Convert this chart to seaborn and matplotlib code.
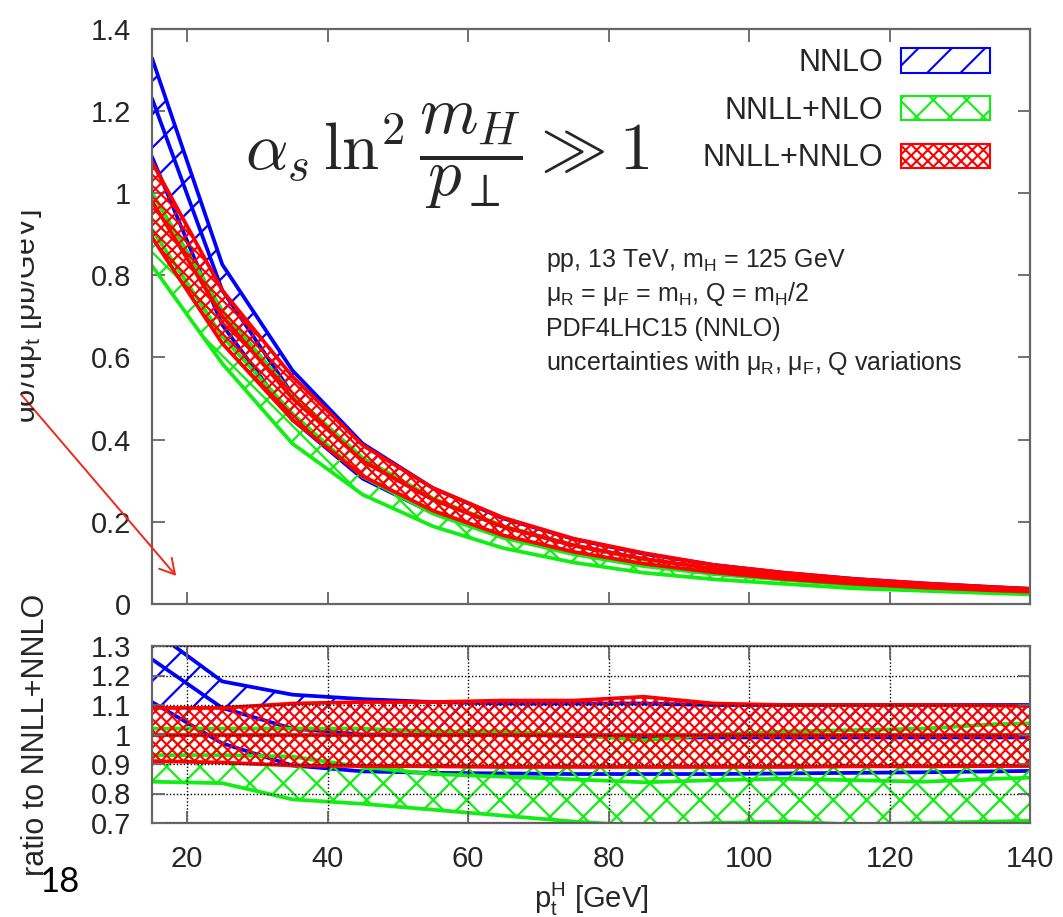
import numpy as np
import pandas as pd
import matplotlib
matplotlib.use("Agg")
import matplotlib.pyplot as plt
import seaborn as sns
from matplotlib.patches import Patch, FancyArrowPatch
from matplotlib.transforms import Bbox, TransformedBbox

# ---------------- data ----------------
pt = [15, 25, 35, 45, 55, 65, 75, 85, 95, 105, 115, 125, 135, 145]

# top panel: d sigma / d pt [pb/GeV]
nnlo_hi  = [1.328, 0.826, 0.568, 0.390, 0.282, 0.208, 0.158, 0.122, 0.095, 0.076, 0.061, 0.050, 0.041, 0.033]
nnlo_mid = [1.230, 0.763, 0.510, 0.348, 0.254, 0.188, 0.142, 0.109, 0.085, 0.068, 0.054, 0.045, 0.037, 0.030]
nnlo_lo  = [1.088, 0.679, 0.448, 0.305, 0.221, 0.163, 0.124, 0.095, 0.074, 0.060, 0.048, 0.039, 0.032, 0.026]

nllnlo_hi  = [1.000, 0.714, 0.510, 0.355, 0.257, 0.190, 0.143, 0.108, 0.086, 0.070, 0.056, 0.046, 0.038, 0.031]
nllnlo_mid = [0.911, 0.651, 0.463, 0.310, 0.220, 0.161, 0.121, 0.092, 0.073, 0.059, 0.046, 0.038, 0.031, 0.026]
nllnlo_lo  = [0.823, 0.585, 0.390, 0.266, 0.189, 0.136, 0.101, 0.076, 0.060, 0.049, 0.038, 0.032, 0.026, 0.021]

nllnnlo_hi  = [1.075, 0.763, 0.553, 0.386, 0.282, 0.210, 0.159, 0.124, 0.095, 0.076, 0.061, 0.050, 0.041, 0.033]
nllnnlo_mid = [0.980, 0.700, 0.500, 0.348, 0.254, 0.188, 0.143, 0.110, 0.086, 0.069, 0.055, 0.045, 0.037, 0.030]
nllnnlo_lo  = [0.892, 0.634, 0.448, 0.311, 0.227, 0.167, 0.127, 0.098, 0.077, 0.061, 0.049, 0.040, 0.033, 0.027]

# bottom panel: ratio to NNLL+NNLO
r_nnlo_hi  = [1.355, 1.18, 1.135, 1.12, 1.11, 1.105, 1.105, 1.105, 1.10, 1.10, 1.10, 1.10, 1.10, 1.10]
r_nnlo_mid = [1.255, 1.09, 1.02, 1.0, 1.0, 1.0, 0.995, 0.99, 0.99, 0.99, 0.99, 0.99, 0.99, 0.99]
r_nnlo_lo  = [1.11, 0.97, 0.895, 0.875, 0.87, 0.868, 0.866, 0.866, 0.866, 0.868, 0.87, 0.872, 0.875, 0.878]

r_nllnlo_hi  = [1.02, 1.02, 1.02, 1.02, 1.01, 1.01, 1.0, 0.98, 1.0, 1.01, 1.015, 1.02, 1.035, 1.04]
r_nllnlo_mid = [0.93, 0.93, 0.925, 0.89, 0.866, 0.857, 0.848, 0.838, 0.845, 0.85, 0.845, 0.84, 0.85, 0.857]
r_nllnlo_lo  = [0.84, 0.835, 0.78, 0.765, 0.745, 0.725, 0.705, 0.69, 0.70, 0.705, 0.695, 0.70, 0.705, 0.71]

r_nllnnlo_hi  = [1.09, 1.09, 1.105, 1.11, 1.11, 1.115, 1.115, 1.128, 1.105, 1.10, 1.10, 1.10, 1.098, 1.095]
r_nllnnlo_mid = [1.0, 1.0, 1.0, 1.0, 1.0, 1.0, 1.0, 1.0, 1.0, 1.0, 1.0, 1.0, 1.0, 1.0]
r_nllnnlo_lo  = [0.91, 0.905, 0.895, 0.893, 0.892, 0.89, 0.89, 0.89, 0.89, 0.89, 0.892, 0.892, 0.893, 0.893]

labels = ["NNLO", "NNLL+NLO", "NNLL+NNLO"]
colors = ["#0000ff", "#11ee11", "#ff0000"]
hatches = ["/", "x", "xxx"]
hatch_lw = [1.6, 1.6, 1.5]

top_yticks = [0, 0.2, 0.4, 0.6, 0.8, 1.0, 1.2, 1.4]
top_yticklabels = ["0", "0.2", "0.4", "0.6", "0.8", "1", "1.2", "1.4"]
bot_yticks = [0.7, 0.8, 0.9, 1.0, 1.1, 1.2, 1.3]
bot_yticklabels = ["0.7", "0.8", "0.9", "1", "1.1", "1.2", "1.3"]
xticks = [20, 40, 60, 80, 100, 120, 140]

# ---------------- style ----------------
sns.set_style("ticks")
plt.rcParams["font.family"] = ["Liberation Sans", "DejaVu Sans"]
plt.rcParams["hatch.linewidth"] = 1.5

W, H = 1063, 917
fig = plt.figure(figsize=(W / 100, H / 100), dpi=100)
fig.patch.set_facecolor("white")

L, R = 152, 1030
ax1 = fig.add_axes([L / W, 1 - 604 / H, (R - L) / W, (604 - 28.5) / H])
ax2 = fig.add_axes([L / W, 1 - 823 / H, (R - L) / W, (823 - 646) / H])

n = len(pt)


def set_hlw(artist, hlw):
    if hasattr(artist, "set_hatch_linewidth"):
        artist.set_hatch_linewidth(hlw)


def draw_band(ax, lo, mid, hi, color, hatch, hlw, z):
    with plt.rc_context({"hatch.linewidth": hlw}):
        coll = ax.fill_between(pt, lo, hi, facecolor="none", edgecolor=color,
                               hatch=hatch, linewidth=0, zorder=z)
    set_hlw(coll, hlw)
    df = pd.DataFrame({
        "pt": pt * 3,
        "val": list(lo) + list(mid) + list(hi),
        "edge": ["lo"] * n + ["mid"] * n + ["hi"] * n,
    })
    sns.lineplot(data=df, x="pt", y="val", hue="edge", palette=[color] * 3,
                 lw=2.7, legend=False, ax=ax, zorder=z + 0.05)


top_sets = [(nnlo_lo, nnlo_mid, nnlo_hi),
            (nllnlo_lo, nllnlo_mid, nllnlo_hi),
            (nllnnlo_lo, nllnnlo_mid, nllnnlo_hi)]
bot_sets = [(r_nnlo_lo, r_nnlo_mid, r_nnlo_hi),
            (r_nllnlo_lo, r_nllnlo_mid, r_nllnlo_hi),
            (r_nllnnlo_lo, r_nllnnlo_mid, r_nllnnlo_hi)]

for i in range(3):
    draw_band(ax1, *top_sets[i], colors[i], hatches[i], hatch_lw[i], 1 + 0.1 * i)
    draw_band(ax2, *bot_sets[i], colors[i], hatches[i], hatch_lw[i], 1 + 0.1 * i)

spine_col = "#666666"
for ax in (ax1, ax2):
    ax.set_xlim(15, 140)
    ax.set_xlabel("")
    ax.set_ylabel("")
    ax.set_xticks(xticks)
    for s in ax.spines.values():
        s.set_visible(True)
        s.set_color(spine_col)
        s.set_linewidth(1.6)
    ax.tick_params(direction="in", top=True, right=True, length=9, width=1.3,
                   color=spine_col, labelsize=21)
    ax.tick_params(axis="y", pad=15)
    ax.tick_params(axis="x", pad=16)

ax1.set_ylim(0, 1.4)
ax1.set_yticks(top_yticks)
ax1.set_yticklabels(top_yticklabels)
ax1.set_xticklabels([])

ax2.set_ylim(0.7, 1.3)
ax2.set_yticks(bot_yticks)
ax2.set_yticklabels(bot_yticklabels)
ax2.set_xticklabels([str(v) for v in xticks])
ax2.set_axisbelow(False)
ax2.grid(True, color="black", linestyle=(0, (1, 1.5)), linewidth=1.0)

# legend
handles = []
for c, h, hl in zip(colors, hatches, hatch_lw):
    with plt.rc_context({"hatch.linewidth": hl}):
        p = Patch(facecolor="none", edgecolor=c, hatch=h, lw=1.5)
    set_hlw(p, hl)
    handles.append(p)
ax1.legend(handles, labels, loc="upper right", bbox_to_anchor=(990 / W, 1 - 48 / H),
           bbox_transform=fig.transFigure, frameon=False, markerfirst=False,
           fontsize=22, handlelength=2.9, handleheight=0.85, handletextpad=0.6,
           labelspacing=0.58, borderpad=0, borderaxespad=0)

# annotation text block
info = [r"pp, 13 TeV, m$\mathregular{_H}$ = 125 GeV",
        r"$\mathregular{\mu_R}$ = $\mathregular{\mu_F}$ = m$\mathregular{_H}$, Q = m$\mathregular{_H}$/2",
        r"PDF4LHC15 (NNLO)",
        r"uncertainties with $\mathregular{\mu_R}$, $\mathregular{\mu_F}$, Q variations"]
base_y = [267, 301, 336, 370]
for s, yb in zip(info, base_y):
    fig.text(546 / W, 1 - yb / H, s, fontsize=18, ha="left", va="baseline")

# big formula
fig.text(245 / W, 1 - 156 / H, r"$\alpha_s\,\ln^2\dfrac{m_H}{p_\perp}\gg 1$",
         math_fontfamily="cm", fontsize=48, ha="left", va="center")

# axis labels
t = fig.text(35 / W, 1 - 316 / H, r"d$\mathregular{\sigma}$/dp$\mathregular{_t}$ [pb/GeV]",
             rotation=90, rotation_mode="anchor", ha="center", va="baseline",
             fontsize=22)
t.set_clip_box(TransformedBbox(Bbox.from_extents(21 / W, 0, 1, 1), fig.transFigure))
t.set_clip_on(True)

fig.text(44 / W, 1 - 735 / H, "ratio to NNLL+NNLO", rotation=90,
         rotation_mode="anchor", ha="center", va="baseline", fontsize=22)

fig.text(591 / W, 1 - 908 / H, r"p$\mathregular{_t^H}$ [GeV]", ha="center",
         va="baseline", fontsize=21)

# slide number
fig.text(39 / W, 1 - 892 / H, "18", fontsize=25, family=["Lato", "DejaVu Sans"],
         fontweight="normal", color="black", ha="left", va="baseline")

# red hand-drawn arrow
fig.add_artist(FancyArrowPatch(
    (19 / W, 1 - 392 / H), (178 / W, 1 - 578 / H), transform=fig.transFigure,
    arrowstyle="->,head_length=7,head_width=4", color="#ee2a1a", lw=1.4,
    mutation_scale=1.5))

fig.savefig("out.png", dpi=100, facecolor="white")
